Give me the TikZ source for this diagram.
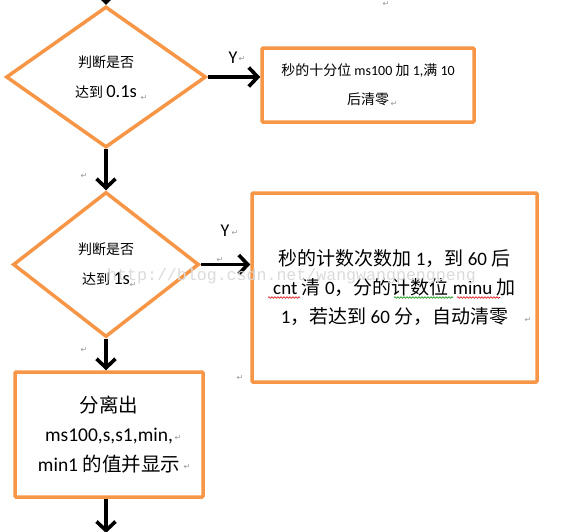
\documentclass[tikz,border=0pt]{standalone}
\usepackage{fontspec}
\setmainfont{Carlito}
\newfontfamily\cjk{Noto Sans CJK SC}
\newfontfamily\dvsans{DejaVu Sans}
\newfontfamily\wmfont{Liberation Mono}
\usetikzlibrary{shapes.geometric,arrows.meta,decorations.pathmorphing}
\definecolor{orfill}{HTML}{F79646}
\newcommand\zh[1]{{\cjk #1}}
\newcommand\biglat[1]{{\fontsize{18.5}{30}\selectfont #1}}
\begin{document}
\begin{tikzpicture}[x=1pt,y=-1pt,
  decision/.style={diamond, draw=orfill, line width=3.5pt, inner sep=0pt, align=center,
    font=\fontsize{14}{30}\selectfont},
  process/.style={rectangle, draw=orfill, line width=3.5pt, rounded corners=1pt, inner sep=0pt, align=center},
  flow/.style={line width=3.6pt, -{Straight Barb[length=9pt,width=19pt]}},
  ylab/.style={font=\fontsize{18}{20}\selectfont, inner sep=0pt},
  ret/.style={font=\dvsans\fontsize{8}{8}\selectfont, text=gray!80, inner sep=0pt},
  wave/.style={decorate, decoration={snake, amplitude=0.8pt, segment length=3pt}, line width=0.6pt}
]
\useasboundingbox (0,0) rectangle (565,531);
\fill[white] (0,0) rectangle (565,531);

\node[decision, minimum width=200pt, minimum height=141pt] (d1) at (106,77)
  {\zh{判断是否}\\\zh{达到} \biglat{0.1s}};
\node[process, minimum width=212pt, minimum height=74pt, font=\fontsize{14}{29}\selectfont] (b1) at (368,85)
  {\zh{秒的十分位} ms100 \zh{加} 1,\zh{满} 10\\\zh{后清零}};
\node[decision, minimum width=186pt, minimum height=145pt] (d2) at (106,264.5)
  {\zh{判断是否}\\\zh{达到} \biglat{1s}};
\node[process, minimum width=285pt, minimum height=189pt, font=\fontsize{19}{29}\selectfont] (b2) at (394.5,287.5)
  {\zh{秒的计数次数加} 1\zh{，到} 60 \zh{后}\\cnt \zh{清} 0\zh{，分的计数位} minu \zh{加}\\1\zh{，若达到} 60 \zh{分，自动清零}};
\node[process, minimum width=188pt, minimum height=125pt, font=\fontsize{19.5}{29.5}\selectfont] (b3) at (109,434.5)
  {\zh{分离出}\\ms100,s,s1,min,\\min1 \zh{的值并显示}};

\coordinate (top) at (106,-4);
\coordinate (bot) at (106,533);
\draw[flow] (top) -- (d1.north);
\draw[flow] (d1.east) -- (d1.east -| b1.west);
\draw[flow] (d1.south) -- (d2.north);
\draw[flow] (d2.east) -- (d2.east -| b2.west);
\draw[flow] (d2.south) -- (d2.south |- b3.north);
\draw[flow] (b3.south -| bot) -- (bot);

\node[ylab] (y1) at (233,58) {Y};
\node[ylab] (y2) at (225,231) {Y};

% spell-check underlines
\draw[wave, red!85!black] (268,297.5) -- (300,297.5);
\draw[wave, green!55!black] (394,297.5) -- (453,297.5);
\draw[wave, red!85!black] (457,297.5) -- (500,297.5);

% paragraph marks
\node[ret] (r1) at (386,4) {↵};
\node[ret] (r2) at (242,59) {↵};
\node[ret] (r3) at (144,98) {↵};
\node[ret] (r4) at (394,104) {↵};
\node[ret] (r5) at (84,176) {↵};
\node[ret] (r6) at (235,233) {↵};
\node[ret] (r7) at (220,260) {↵};
\node[ret] (r8) at (133,285) {↵};
\node[ret] (r9) at (528,320) {↵};
\node[ret] (r10) at (84,350) {↵};
\node[ret] (r11) at (240,378) {↵};
\node[ret] (r12) at (178,438) {↵};
\node[ret] (r13) at (187,467) {↵};

% watermark
\node[anchor=base west, inner sep=0pt, font=\wmfont\fontsize{16.6}{18}\selectfont, text=gray!28] (wm) at (107,280)
  {http://blog.csdn.net/wangwangpengpeng};
\end{tikzpicture}
\end{document}
